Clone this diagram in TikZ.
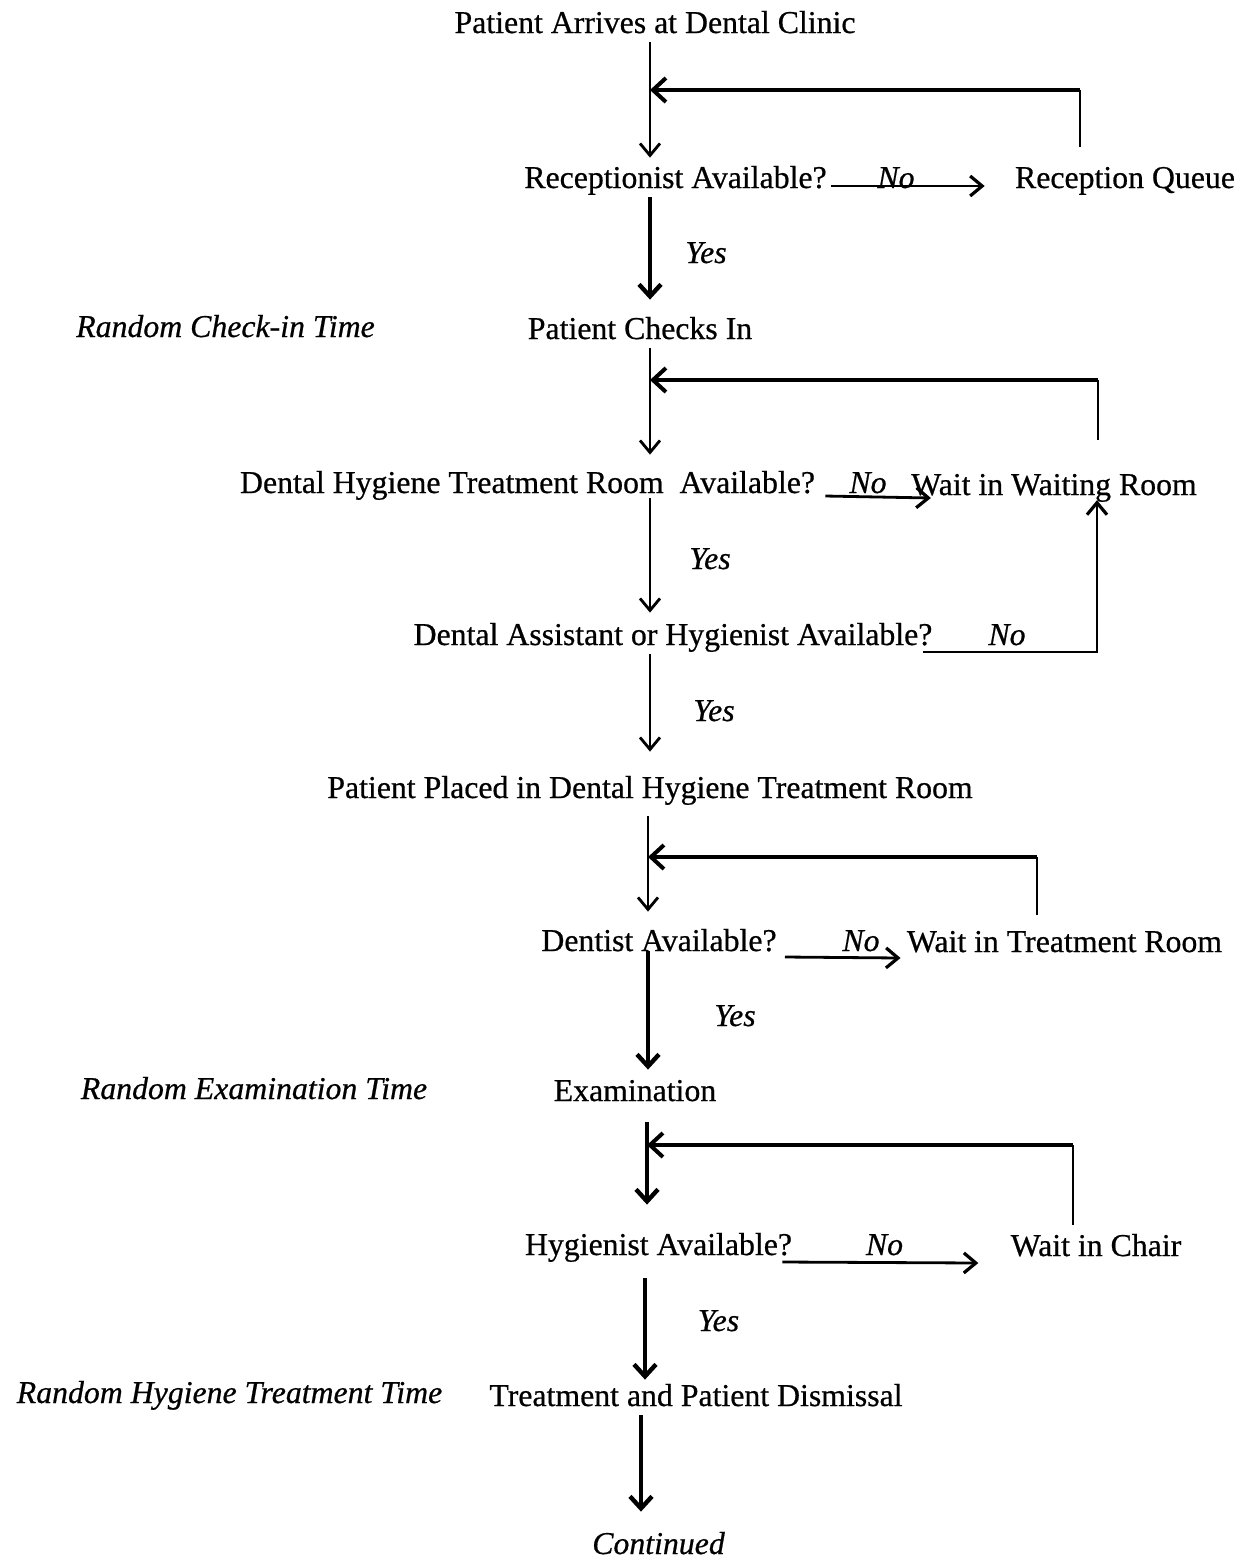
\documentclass[tikz,border=0pt]{standalone}
\usepackage{fontspec}
\setmainfont{Liberation Serif}[FakeBold=0.6]
\usetikzlibrary{arrows.meta}
\begin{document}
\begin{tikzpicture}[x=0.5pt,y=-0.5pt,
  txt/.style={font=\fontsize{15.9}{19}\selectfont, inner sep=1pt, text height=10.5pt, text depth=3.4pt, anchor=base},
  lbl/.style={txt, font=\fontsize{15.9}{19}\selectfont\itshape},
  thinarr/.style={line width=1pt, -{Straight Barb[length=6pt,width=10pt,line width=1.4pt]}},
  thickarr/.style={line width=2.2pt, -{Straight Barb[length=6pt,width=11pt]}},
  noarr/.style={line width=1.4pt, -{Straight Barb[length=6pt,width=10pt,line width=1.6pt]}},
  fbline/.style={line width=1.1pt},
  fbarr/.style={line width=2pt, -{Straight Barb[length=6.5pt,width=12pt]}}]
\useasboundingbox (0,0) rectangle (1248,1560);
% text nodes
\node[txt] (arrive) at (655,33) {Patient Arrives at Dental Clinic};
\node[txt] (recep) at (675.5,188) {Receptionist Available?};
\node[lbl] (no1) at (896,188) {No};
\node[txt] (queue) at (1125,188) {Reception Queue};
\node[lbl] (yes1) at (706,263) {Yes};
\node[lbl] (rnd1) at (225.5,337) {Random Check-in Time};
\node[txt] (checks) at (640,339) {Patient Checks In};
\node[txt] (room) at (527.5,493) {Dental Hygiene Treatment Room\ \ Available?};
\node[lbl] (no2) at (868,493) {No};
\node[txt] (wroom) at (1054,495) {Wait in Waiting Room};
\node[lbl] (yes2) at (710,569) {Yes};
\node[txt] (assist) at (673,645) {Dental Assistant or Hygienist Available?};
\node[lbl] (no3) at (1007,645) {No};
\node[lbl] (yes3) at (714,721) {Yes};
\node[txt] (placed) at (650,798) {Patient Placed in Dental Hygiene Treatment Room};
\node[txt] (dentist) at (659,951) {Dentist Available?};
\node[lbl] (no4) at (861,951) {No};
\node[txt] (wtreat) at (1064.5,952) {Wait in Treatment Room};
\node[lbl] (yes4) at (735,1026) {Yes};
\node[lbl] (rnd2) at (254,1099) {Random Examination Time};
\node[txt] (exam) at (635,1101) {Examination};
\node[txt] (hyg) at (658.5,1255) {Hygienist Available?};
\node[lbl] (no5) at (884.5,1255) {No};
\node[txt] (chair) at (1096,1256) {Wait in Chair};
\node[lbl] (yes5) at (718.5,1331) {Yes};
\node[lbl] (rnd3) at (229.5,1403) {Random Hygiene Treatment Time};
\node[txt] (treat) at (696,1406) {Treatment and Patient Dismissal};
\node[lbl] (cont) at (658.5,1554) {Continued};
% spine and corner coordinates
\coordinate (x650) at (650,0);
\coordinate (x648) at (648,0);
\coordinate (x647) at (647,0);
\coordinate (x645) at (645,0);
\coordinate (x641) at (641,0);
\coordinate (fb1) at (1080,90);
\coordinate (fb2) at (1098,380);
\coordinate (fbup) at (1097,0);
\coordinate (fb3) at (1037,857);
\coordinate (fb4) at (1073,1145);
% connectors
\draw[thinarr, shorten >=3.5pt] (arrive.south -| x650) -- (recep.north -| x650);
\draw[fbline, shorten <=9pt] (queue.north -| fb1) -- (fb1);
\draw[fbarr] (fb1) -- (fb1 -| x650);
\draw[noarr] ([xshift=1pt,yshift=1pt]recep.base east) -- ([xshift=-14pt,yshift=1pt]queue.base west);
\draw[thickarr, shorten >=8pt] (recep.south -| x650) -- (checks.north -| x650);
\draw[thinarr, shorten >=7.5pt] (checks.south -| x650) -- (room.north -| x650);
\draw[fbline, shorten <=16pt] (wroom.north -| fb2) -- (fb2);
\draw[fbarr] (fb2) -- (fb2 -| x650);
\draw[noarr] ([xshift=4pt,yshift=-1.5pt]room.base east) -- ([xshift=11pt,yshift=-1.5pt]wroom.base west);
\draw[thinarr, shorten <=-2pt, shorten >=4.5pt] (room.south -| x650) -- (assist.north -| x650);
\draw[noarr] ([xshift=-6pt,yshift=-3.5pt]assist.base east) -| ([yshift=2pt]wroom.south -| fbup);
\draw[thinarr, shorten >=11.5pt] (assist.south -| x650) -- (placed.north -| x650);
\draw[thinarr, shorten <=4.5pt, shorten >=8pt] (placed.south -| x648) -- (dentist.north -| x648);
\draw[fbline, shorten <=7pt] (wtreat.north -| fb3) -- (fb3);
\draw[fbarr] (fb3) -- (fb3 -| x648);
\draw[noarr] ([xshift=3pt,yshift=-3pt]dentist.base east) -- ([xshift=-2pt,yshift=-3pt]wtreat.base west);
\draw[thickarr, shorten >=4pt] (dentist.base -| x648) -- (exam.north -| x648);
\draw[thickarr, shorten <=6pt, shorten >=13.5pt] (exam.south -| x647) -- (hyg.north -| x647);
\draw[fbline, shorten <=4pt] (chair.north -| fb4) -- (fb4);
\draw[fbarr] (fb4) -- (fb4 -| x647);
\draw[noarr] ([xshift=-6pt,yshift=-3.5pt]hyg.base east) -- ([xshift=-15pt,yshift=-3.5pt]chair.base west);
\draw[thickarr, shorten <=7pt, shorten >=1.5pt] (hyg.south -| x645) -- (treat.north -| x645);
\draw[thickarr, shorten >=9.5pt] (treat.south -| x641) -- (cont.north -| x641);
\end{tikzpicture}
\end{document}
